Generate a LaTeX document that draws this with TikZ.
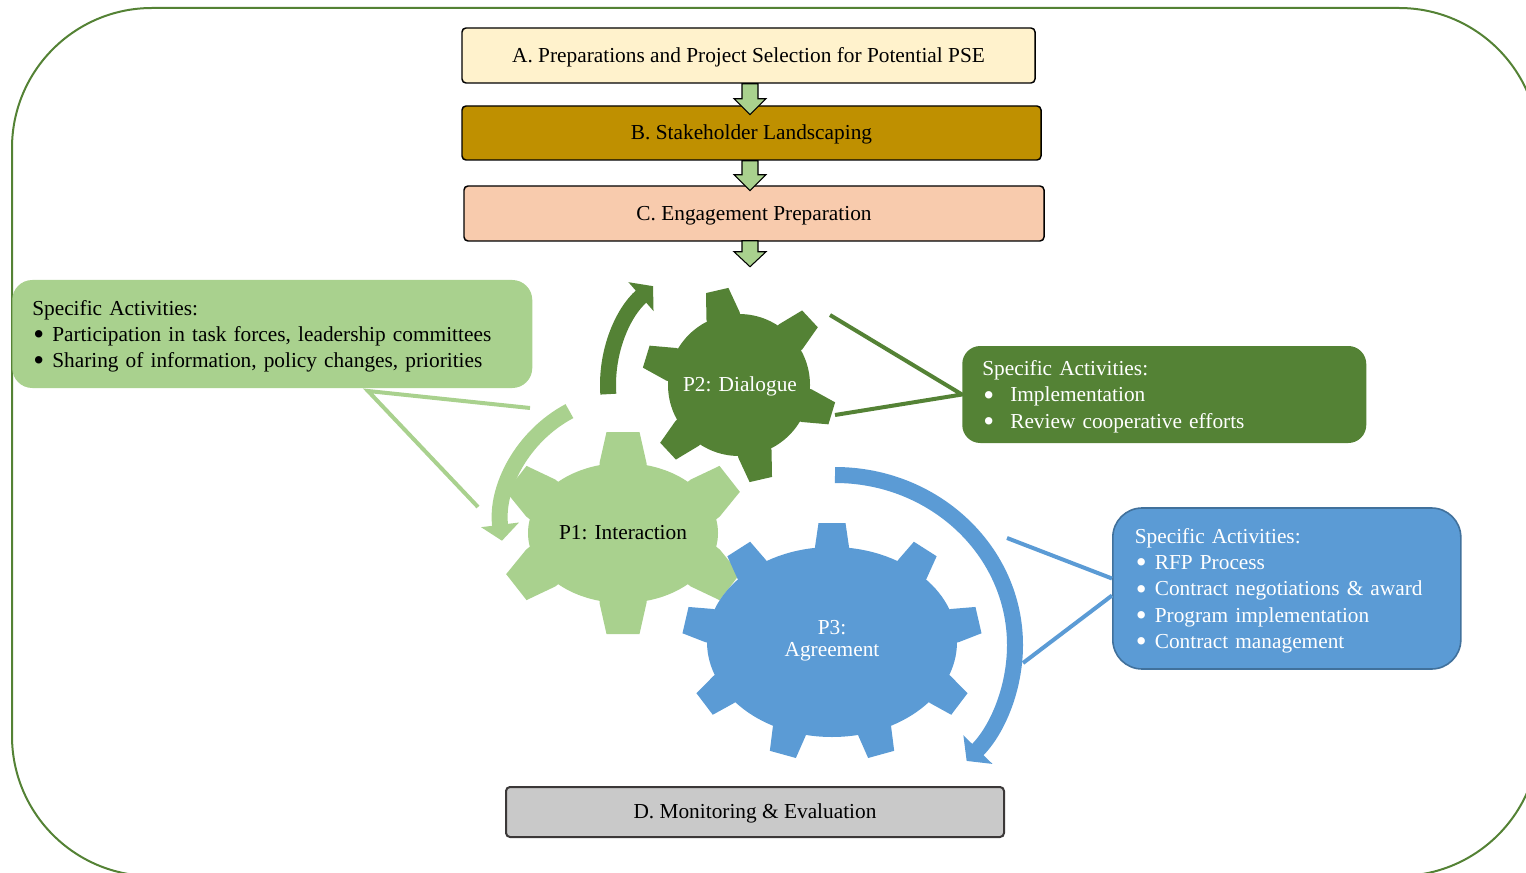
\documentclass[tikz,border=0pt]{standalone}
\usepackage{fontspec}
\setmainfont{Liberation Serif}
\usetikzlibrary{arrows.meta,calc}
\newlength\pxl \setlength\pxl{0.75pt}
\definecolor{dgreen}{HTML}{548235}
\definecolor{lgreen}{HTML}{A9D18E}
\definecolor{blueG}{HTML}{5B9BD5}
\definecolor{blueBorder}{HTML}{41719C}
\definecolor{Afill}{HTML}{FFF2CC}
\definecolor{Bfill}{HTML}{BF9000}
\definecolor{Cfill}{HTML}{F8CBAD}
\definecolor{Dfill}{HTML}{C9C9C9}
\definecolor{Dborder}{HTML}{3B3838}
\newcommand\blkarrow[3]{\draw[blockarr] ($#1+(-8,0)$) -- ++(0,#2) -- ++(-8,0) -- ++(16,#3) -- ++(16,-#3) -- ++(-8,0) -- ++(0,-#2) -- cycle;}
\newcommand\drawgear[9]{%
  \fill[#1] (#2,#3) ellipse[x radius=#4, y radius=#5];
  \foreach \t in {#9} {
    \pgfmathsetmacro\gbx{#2+#4*cos(\t)}
    \pgfmathsetmacro\gby{#3+#5*sin(\t)}
    \pgfmathsetmacro\gphi{-atan2(sin(\t)/#5, cos(\t)/#4)}
    \fill[#1, shift={(\gbx,\gby)}, rotate=\gphi] (-8,-#7) -- (0,-#7) -- (#6,-#8) -- (#6,#8) -- (0,#7) -- (-8,#7) -- cycle;
  }
}
\newcommand\bul[1]{\makebox[#1\pxl][l]{\hspace{1\pxl}\raisebox{-2.4pt}[0pt][0pt]{\scalebox{1.45}{\textbullet}}}}
\begin{document}
\begin{tikzpicture}[x=0.75pt,y=-0.75pt,
  every node/.style={font=\fontsize{16}{19.7}\selectfont},
  stage/.style={draw=black, line width=1.1pt, rounded corners=3pt, inner sep=0pt, align=center, text height=12.5pt, text depth=2.5pt},
  actbox/.style={rounded corners=#1, inner ysep=0pt, align=left, anchor=west},
  blockarr/.style={fill=lgreen, draw=black, line width=0.8pt, line join=miter},
  callout/.style={line width=3pt},
  ringarrow/.style={line width=12pt, -{Triangle[width=28pt,length=12pt]}},
]
\useasboundingbox (0,0) rectangle (1526,873);
% outer frame
\draw[dgreen, line width=1.5pt, rounded corners=105pt] (12,8) rectangle (1539,876);

% activity boxes
\node[actbox=15pt, fill=lgreen, text width=480\pxl, inner xsep=20\pxl, minimum height=108\pxl] (LG) at (12,334)
 {\rule{0pt}{14.5pt}Specific Activities:\\
  \bul{20}Participation in task forces, leadership committees\\
  \bul{20}Sharing of information, policy changes, priorities};
\node[actbox=13.5pt, fill=dgreen, text=white, text width=364\pxl, inner xsep=20\pxl, minimum height=97\pxl] (DG) at (962,394.5)
 {\rule{0pt}{14.5pt}Specific Activities:\\
  \bul{28}Implementation\\
  \bul{28}Review cooperative efforts};
\node[actbox=22pt, fill=blueG, draw=blueBorder, line width=1.2pt, text=white, text width=304\pxl, inner xsep=22\pxl, minimum height=161\pxl] (BL) at (1112,588.5)
 {\rule{0pt}{14.5pt}Specific Activities:\\
  \bul{20}RFP Process\\
  \bul{20}Contract negotiations \& award\\
  \bul{20}Program implementation\\
  \bul{20}Contract management};

% callout connectors
\coordinate (lgV) at (368,391);
\coordinate (lgA) at (530,408);
\coordinate (lgB) at (478,507);
\draw[callout, lgreen] (lgA) -- (lgV) -- (lgB);
\coordinate (dgA) at (830,315);
\coordinate (dgB) at (835,415);
\draw[callout, dgreen] (dgA) -- (DG.west) -- (dgB);
\coordinate (blA) at (1007,538);
\coordinate (blB) at (1023,663);
\draw[callout, blueG] (blA) -- ($(BL.west)+(0,-10)$);
\draw[callout, blueG] ($(BL.west)+(0,7)$) -- (blB);

% stage boxes
\node[stage, fill=Afill, minimum width=573\pxl, minimum height=55\pxl] (A) at (748.5,55.5) {A. Preparations and Project Selection for Potential PSE};
\node[stage, fill=Bfill, minimum width=579\pxl, minimum height=54\pxl] (B) at (751.5,133) {B. Stakeholder Landscaping};
\node[stage, fill=Cfill, minimum width=580\pxl, minimum height=55\pxl] (C) at (754,213.5) {C. Engagement Preparation};
\node[stage, fill=Dfill, draw=Dborder, line width=1.5pt, minimum width=498\pxl, minimum height=50\pxl] (D) at (755,812) {D. Monitoring \& Evaluation};

% block arrows
\blkarrow{(A.south)+(1.5,0)}{15}{16}
\blkarrow{(B.south)+(-1.5,0)}{14}{16}
\blkarrow{(C.south)+(-4,-1)}{11}{15}

% ring arrows
\coordinate (g2c) at (739,385);
\coordinate (g1c) at (630,525);
\coordinate (g3c) at (835,645);
\draw[ringarrow, dgreen] ($(g2c)+(176:131)$) arc[start angle=176, end angle=229, radius=131];
\draw[ringarrow, lgreen] ($(g1c)+(242:129)$) arc[start angle=242, end angle=173, radius=129];
\draw[ringarrow, blueG, -{Triangle[width=30pt,length=12pt]}] ($(g3c)+(0,-170)$) arc[start angle=270, end angle=403, x radius=180, y radius=170];

% gears
\drawgear{dgreen}{739}{385}{71}{71}{26}{17}{11.5}{17,77,137,197,257,317}
\drawgear{lgreen}{623}{533}{95}{70}{31}{23.5}{16.5}{30,90,150,210,270,330}
\drawgear{blueG}{832}{642}{125}{95}{24}{17}{13.5}{270,310,350,30,70,110,150,190,230}

% gear labels
\node[text=white, text height=12.5pt, text depth=2.5pt] (P2) at (740,385) {P2: Dialogue};
\node[text height=12.5pt, text depth=2.5pt] (P1) at (623,533) {P1: Interaction};
\node[text=white, align=center, font=\fontsize{16}{16.5}\selectfont] (P3) at (832,641) {P3:\\Agreement};
\end{tikzpicture}
\end{document}
